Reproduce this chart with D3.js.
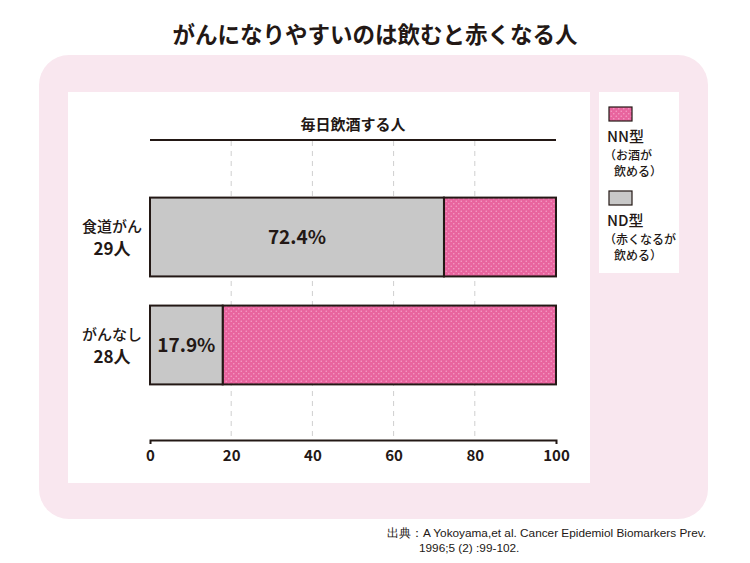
<!DOCTYPE html>
<html><head><meta charset="utf-8">
<script src="https://cdn.jsdelivr.net/npm/d3@7"></script>
<style>
html,body{margin:0;padding:0;background:#fff;}
svg{display:block;font-family:"Noto Sans CJK JP","Noto Sans",sans-serif;}
</style></head>
<body>
<svg id="c" width="750" height="563"></svg>
<script>
const title = "がんになりやすいのは飲むと赤くなる人";
const subtitle = "毎日飲酒する人";
const categories = ["食道がん", "がんなし"];
const groupSizes = ["29人", "28人"];
const ndValues = [72.4, 17.9];   // ND型（赤くなるが飲める）
const nnValues = [27.6, 82.1];   // NN型（お酒が飲める）
const ndLabels = ["72.4%", "17.9%"];
const tickValues = [0, 20, 40, 60, 80, 100];
const legendItems = [
  {key: "NN", lines: ["NN型", "（お酒が", "飲める）"]},
  {key: "ND", lines: ["ND型", "（赤くなるが", "飲める）"]}
];
const sourceLines = ["出典：A Yokoyama,et al. Cancer Epidemiol Biomarkers Prev.", "1996;5 (2) :99-102."];

const PINK = "#e8649e", GRAY = "#c8c8c8", INK = "#231815", FRAME = "#f9e7ef";

const svg = d3.select("#c");
const defs = svg.append("defs");
const pat = defs.append("pattern").attr("id", "dots").attr("patternUnits", "userSpaceOnUse")
  .attr("width", 5).attr("height", 5);
pat.append("rect").attr("width", 5).attr("height", 5).attr("fill", PINK);
pat.append("circle").attr("cx", 1.25).attr("cy", 1.25).attr("r", 0.8).attr("fill", "#f59cc6");
pat.append("circle").attr("cx", 3.75).attr("cy", 3.75).attr("r", 0.8).attr("fill", "#f59cc6");

// title
svg.append("text").attr("x", 375).attr("y", 43).attr("text-anchor", "middle")
  .attr("font-size", 22.5).attr("font-weight", 700).attr("fill", INK).text(title);

// pink frame
svg.append("rect").attr("x", 39).attr("y", 55).attr("width", 669).attr("height", 464)
  .attr("rx", 30).attr("fill", FRAME);
// white panels
svg.append("rect").attr("x", 68).attr("y", 92).attr("width", 522).attr("height", 391).attr("fill", "#fff");
svg.append("rect").attr("x", 599).attr("y", 92).attr("width", 80).attr("height", 181).attr("fill", "#fff");

// scales
const x = d3.scaleLinear().domain([0, 100]).range([150, 556]);
const y = d3.scaleBand().domain(categories).range([176, 406]).paddingInner(0.27).paddingOuter(0.2);

// gridlines
svg.append("g").selectAll("line").data(tickValues.filter(d => d > 0 && d < 100)).join("line")
  .attr("x1", d => x(d)).attr("x2", d => x(d)).attr("y1", 141).attr("y2", 440)
  .attr("stroke", "#cfcfcf").attr("stroke-width", 1).attr("stroke-dasharray", "5,5");

// top line
svg.append("line").attr("x1", x(0)).attr("x2", x(100)).attr("y1", 140).attr("y2", 140)
  .attr("stroke", INK).attr("stroke-width", 2);
svg.append("text").attr("x", (x(0) + x(100)) / 2).attr("y", 130).attr("text-anchor", "middle")
  .attr("font-size", 15).attr("font-weight", 700).attr("fill", INK).text(subtitle);

// x axis
const axis = svg.append("g").attr("transform", "translate(0,440)")
  .call(d3.axisBottom(x).tickValues(tickValues).tickSizeInner(0).tickSizeOuter(4).tickPadding(10));
axis.select(".domain").attr("stroke", INK).attr("stroke-width", 2);
axis.selectAll("text").attr("font-size", 15).attr("font-weight", 700).attr("fill", INK)
  .attr("font-family", "'Noto Sans CJK JP', sans-serif");

// bars
const rows = categories.map((c, i) => ({c, nd: ndValues[i], nn: nnValues[i], lbl: ndLabels[i], n: groupSizes[i]}));
const g = svg.append("g");
g.selectAll(".nn").data(rows).join("rect").attr("class", "nn")
  .attr("x", d => x(d.nd)).attr("y", d => y(d.c)).attr("width", d => x(d.nd + d.nn) - x(d.nd))
  .attr("height", y.bandwidth()).attr("fill", "url(#dots)").attr("stroke", INK).attr("stroke-width", 2);
g.selectAll(".nd").data(rows).join("rect").attr("class", "nd")
  .attr("x", x(0)).attr("y", d => y(d.c)).attr("width", d => x(d.nd) - x(0))
  .attr("height", y.bandwidth()).attr("fill", GRAY).attr("stroke", INK).attr("stroke-width", 2);
g.selectAll(".pct").data(rows).join("text").attr("class", "pct")
  .attr("x", d => (x(0) + x(d.nd)) / 2).attr("y", d => y(d.c) + y.bandwidth() / 2 + 7)
  .attr("text-anchor", "middle").attr("font-size", 19).attr("font-weight", 700).attr("fill", INK)
  .text(d => d.lbl);

// category labels
const cl = g.selectAll(".cat").data(rows).join("text").attr("class", "cat")
  .attr("text-anchor", "middle").attr("font-size", 15).attr("font-weight", 500).attr("fill", INK);
cl.append("tspan").attr("x", 112).attr("y", d => y(d.c) + y.bandwidth() / 2 - 5).text(d => d.c);
cl.append("tspan").attr("x", 112).attr("y", d => y(d.c) + y.bandwidth() / 2 + 18)
  .attr("font-size", 17).attr("font-weight", 700).text(d => d.n);

// legend
const lg = svg.append("g");
legendItems.forEach((it, i) => {
  const top = 107 + i * 84;
  lg.append("rect").attr("x", 609).attr("y", top).attr("width", 23).attr("height", 14)
    .attr("fill", it.key === "NN" ? "url(#dots)" : GRAY).attr("stroke", INK).attr("stroke-width", 1.2);
  lg.append("text").attr("x", 607).attr("y", top + 35).attr("font-size", 15).attr("font-weight", 500)
    .attr("fill", INK).text(it.lines[0]);
  lg.append("text").attr("x", 604).attr("y", top + 53).attr("font-size", 12).attr("font-weight", 500)
    .attr("fill", INK).text(it.lines[1]);
  lg.append("text").attr("x", 614).attr("y", top + 69).attr("font-size", 12).attr("font-weight", 500)
    .attr("fill", INK).text(it.lines[2]);
});

// source
svg.append("text").attr("x", 387).attr("y", 537).attr("font-size", 11.8)
  .attr("font-family", "'Liberation Sans', Arial, sans-serif").attr("fill", INK).text(sourceLines[0]);
svg.append("text").attr("x", 419).attr("y", 552).attr("font-size", 11.8)
  .attr("font-family", "'Liberation Sans', Arial, sans-serif").attr("fill", INK).text(sourceLines[1]);
</script>
</body></html>
